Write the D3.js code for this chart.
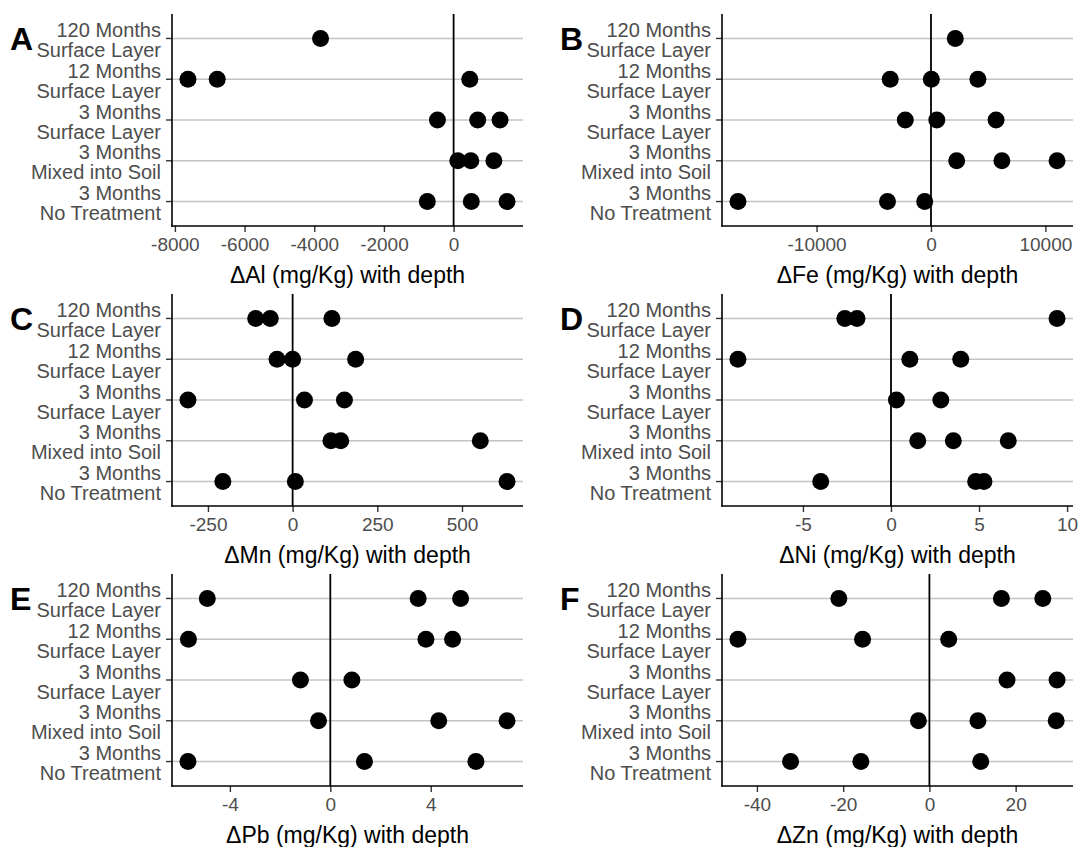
<!DOCTYPE html>
<html>
<head>
<meta charset="utf-8">
<script src="https://cdn.jsdelivr.net/npm/d3@7"></script>
<style>
    body { margin: 0; background: #fff; }
    svg text { font-family: "Liberation Sans", Arial, Helvetica, sans-serif; }
</style>
</head>
<body>
<div id="chart"></div>
<script>
// categories, top to bottom
const treatments = [
    ['120 Months', 'Surface Layer'],
    ['12 Months', 'Surface Layer'],
    ['3 Months', 'Surface Layer'],
    ['3 Months', 'Mixed into Soil'],
    ['3 Months', 'No Treatment'],
];

const panelLetters = ['A', 'B', 'C', 'D', 'E', 'F'];
const elements = ['Al', 'Fe', 'Mn', 'Ni', 'Pb', 'Zn'];

// change with depth (mg/Kg), one list per treatment row
const alValues = [[-3820], [-7625, -6785, 464], [-464, 691, 1333], [120, 494, 1156], [-755, 508, 1534]];
const feValues = [[2126], [-3563, 30, 4102], [-2245, 509, 5689], [2246, 6198, 11018], [-16870, -3800, -548]];
const mnValues = [[-109, -66, 116], [-46, 0, 186], [-309, 35, 153], [113, 142, 554], [-206, 8, 633]];
const niValues = [[-2.62, -1.93, 9.43], [-8.69, 1.07, 3.96], [0.31, 2.83], [1.52, 3.54, 6.66], [-3.99, 4.81, 5.28]];
const pbValues = [[-4.9, 3.5, 5.19], [-5.65, 3.81, 4.87], [-1.19, 0.86], [-0.47, 4.32, 7.04], [-5.67, 1.36, 5.8]];
const znValues = [[-21.0, 16.7, 26.3], [-44.4, -15.5, 4.47], [18.0, 29.6], [-2.55, 11.25, 29.4], [-32.2, -15.9, 11.9]];

// tick labels per panel
const alTicks = [-8000, -6000, -4000, -2000, 0];
const feTicks = [-10000, 0, 10000];
const mnTicks = [-250, 0, 250, 500];
const niTicks = [-5, 0, 5, 10];
const pbTicks = [-4, 0, 4];
const znTicks = [-40, -20, 0, 20];

const panelValues = [alValues, feValues, mnValues, niValues, pbValues, znValues];
const panelTicks = [alTicks, feTicks, mnTicks, niTicks, pbTicks, znTicks];

// layout
const width = 1082;
const height = 847;
const colX = [0, 550];
const rowY = [14, 294, 574];
const marginLeft = 172;
const plotW = 351;
const plotH = 212;

const $svg = d3.select('#chart').append('svg')
    .attr('width', width)
    .attr('height', height);

function drawPanel(i) {
    const x0 = colX[i % 2];
    const y0 = rowY[Math.floor(i / 2)];
    const values = panelValues[i];

    const points = [];
    values.forEach((row, r) => row.forEach(v => points.push({ row: r, value: v })));

    // ggplot-style 5% expansion
    const ext = d3.extent(points, d => d.value);
    const pad = (ext[1] - ext[0]) * 0.05;

    const scaleX = d3.scaleLinear()
        .domain([ext[0] - pad, ext[1] + pad])
        .range([0, plotW]);
    const scaleY = d3.scalePoint()
        .domain(d3.range(treatments.length))
        .range([0, plotH])
        .padding(0.6);

    const $g = $svg.append('g')
        .attr('transform', `translate(${x0 + marginLeft}, ${y0})`);

    // horizontal grid lines
    $g.append('g').selectAll('line')
        .data(scaleY.domain())
        .join('line')
        .attr('x1', 0)
        .attr('x2', plotW)
        .attr('y1', d => scaleY(d))
        .attr('y2', d => scaleY(d))
        .attr('stroke', '#c4c4c4')
        .attr('stroke-width', 1.4);

    // zero line
    $g.append('line')
        .attr('x1', scaleX(0))
        .attr('x2', scaleX(0))
        .attr('y1', 0)
        .attr('y2', plotH)
        .attr('stroke', '#000')
        .attr('stroke-width', 1.8);

    // x axis
    const $xAxis = $g.append('g')
        .attr('transform', `translate(0, ${plotH})`)
        .call(d3.axisBottom(scaleX).tickValues(panelTicks[i]).tickSize(6).tickPadding(6).tickFormat(d3.format('d')));
    $xAxis.select('.domain').remove();
    $xAxis.selectAll('.tick line').attr('stroke', '#333').attr('stroke-width', 1.4);
    $xAxis.selectAll('.tick text')
        .attr('fill', '#4d4d4d')
        .style('font-size', '19px')
        .text(d => (d < 0 ? '-' + Math.abs(d) : d));

    // y axis ticks + two-line labels
    const $yAxis = $g.append('g');
    const $ticks = $yAxis.selectAll('g')
        .data(scaleY.domain())
        .join('g')
        .attr('transform', d => `translate(0, ${scaleY(d)})`);
    $ticks.append('line')
        .attr('x1', -6)
        .attr('x2', 0)
        .attr('stroke', '#333')
        .attr('stroke-width', 1.4);
    $ticks.append('text')
        .attr('text-anchor', 'end')
        .attr('fill', '#4d4d4d')
        .style('font-size', '20px')
        .selectAll('tspan')
        .data(d => treatments[d])
        .join('tspan')
        .attr('x', -11)
        .attr('y', (d, k) => (k === 0 ? -1.5 : 18.5))
        .text(d => d);

    // axis lines
    $g.append('line')
        .attr('x1', 0).attr('x2', 0)
        .attr('y1', 0).attr('y2', plotH + 0.7)
        .attr('stroke', '#000')
        .attr('stroke-width', 1.6);
    $g.append('line')
        .attr('x1', -0.7).attr('x2', plotW)
        .attr('y1', plotH).attr('y2', plotH)
        .attr('stroke', '#000')
        .attr('stroke-width', 1.6);

    // points
    $g.append('g').selectAll('circle')
        .data(points)
        .join('circle')
        .attr('cx', d => scaleX(d.value))
        .attr('cy', d => scaleY(d.row))
        .attr('r', 8.5)
        .attr('fill', '#000');

    // axis title
    $g.append('text')
        .attr('x', plotW / 2)
        .attr('y', plotH + 57)
        .attr('text-anchor', 'middle')
        .attr('fill', '#000')
        .style('font-size', '23px')
        .text(`\u0394${elements[i]} (mg/Kg) with depth`);

    // panel letter
    $svg.append('text')
        .attr('x', x0 + 10)
        .attr('y', y0 + scaleY(0) + 11.5)
        .attr('fill', '#000')
        .style('font-size', '32px')
        .style('font-weight', 'bold')
        .text(panelLetters[i]);
}

panelLetters.forEach((d, i) => drawPanel(i));
</script>
</body>
</html>
